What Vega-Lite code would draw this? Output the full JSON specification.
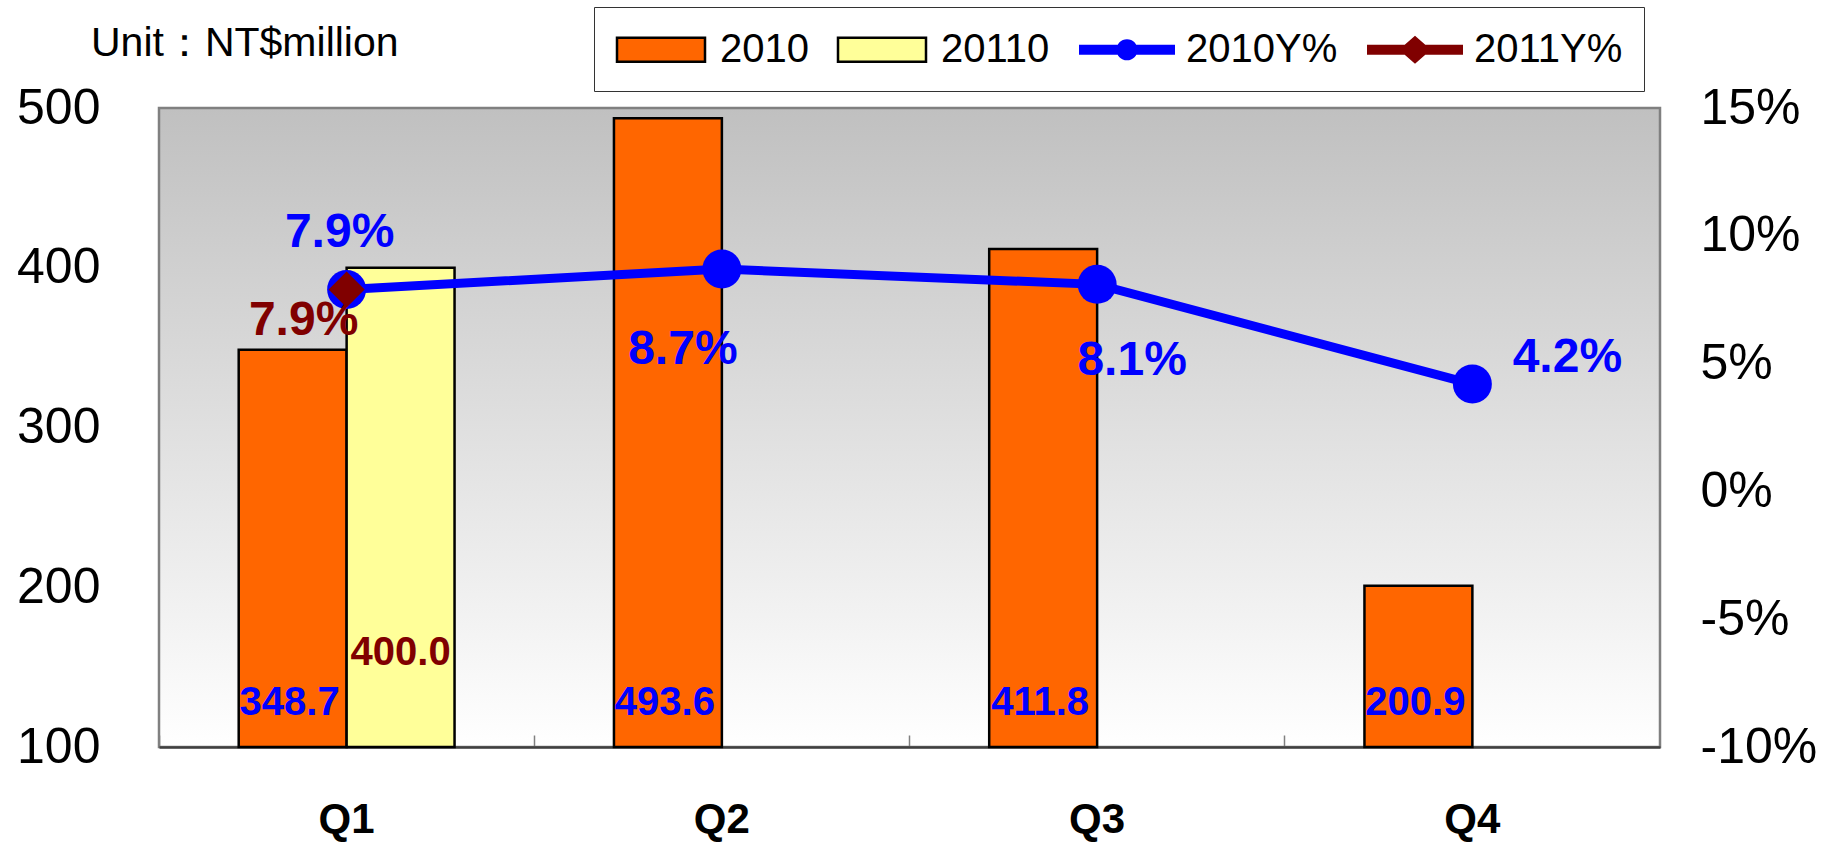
{
  "$schema": "https://vega.github.io/schema/vega-lite/v6.json",
  "width": 1501,
  "height": 639,
  "autosize": {"type": "none"},
  "padding": {"left": 159, "top": 108, "right": 176, "bottom": 100},
  "background": "white",
  "title": {
    "text": "Unit：NT$million",
    "anchor": "start",
    "frame": "group",
    "orient": "top",
    "fontSize": 41,
    "fontWeight": "normal",
    "font": "Liberation Sans",
    "color": "black",
    "baseline": "alphabetic",
    "dx": -68,
    "dy": 116,
    "offset": 26
  },
  "datasets": {
    "sales": [
      {"quarter": "Q1", "year": "2010", "sales": 348.7},
      {"quarter": "Q1", "year": "20110", "sales": 400.0},
      {"quarter": "Q2", "year": "2010", "sales": 493.6},
      {"quarter": "Q3", "year": "2010", "sales": 411.8},
      {"quarter": "Q4", "year": "2010", "sales": 200.9}
    ],
    "growth": [
      {"quarter": "Q1", "series": "2010Y%", "pct": 0.079},
      {"quarter": "Q2", "series": "2010Y%", "pct": 0.087},
      {"quarter": "Q3", "series": "2010Y%", "pct": 0.081},
      {"quarter": "Q4", "series": "2010Y%", "pct": 0.042},
      {"quarter": "Q1", "series": "2011Y%", "pct": 0.079}
    ]
  },
  "config": {
    "font": "Liberation Sans",
    "view": {
      "stroke": "#808080",
      "strokeWidth": 2.5,
      "fill": {
        "gradient": "linear",
        "x1": 0, "y1": 0, "x2": 0, "y2": 1,
        "stops": [
          {"offset": 0, "color": "#c0c0c0"},
          {"offset": 1, "color": "#ffffff"}
        ]
      }
    }
  },
  "layer": [
    {
      "data": {"name": "sales"},
      "encoding": {
        "x": {
          "field": "quarter",
          "type": "nominal",
          "scale": {"domain": ["Q1", "Q2", "Q3", "Q4"], "paddingInner": 0, "paddingOuter": 0},
          "title": null,
          "axis": {
            "orient": "bottom",
            "labelFontSize": 42,
            "labelFontWeight": "bold",
            "labelColor": "black",
            "labelAngle": 0,
            "labelPadding": 64,
            "domainColor": "#404040",
            "domainWidth": 2.5,
            "ticks": true,
            "tickSize": -12,
            "tickColor": "#808080",
            "tickWidth": 1.5,
            "bandPosition": 0,
            "grid": false
          }
        },
        "xOffset": {
          "field": "year",
          "type": "nominal",
          "scale": {"domain": ["2010", "20110"], "paddingInner": 0, "paddingOuter": 0.7385}
        }
      },
      "layer": [
        {
          "mark": {"type": "bar", "stroke": "black", "strokeWidth": 2.5},
          "encoding": {
            "y": {
              "field": "sales",
              "type": "quantitative",
              "scale": {"domain": [100, 500], "zero": false},
              "title": null,
              "axis": {
                "orient": "left",
                "values": [100, 200, 300, 400, 500],
                "labelFontSize": 50,
                "labelColor": "black",
                "labelPadding": 59,
                "ticks": false,
                "domain": false,
                "grid": false
              }
            },
            "y2": {"datum": 100},
            "color": {
              "field": "year",
              "type": "nominal",
              "scale": {
                "domain": ["2010", "20110", "2010Y%", "2011Y%"],
                "range": ["#FF6600", "#FFFF99", "#0000FF", "#800000"]
              },
              "legend": {
                "title": null,
                "orient": "none",
                "legendX": 435,
                "legendY": -101,
                "direction": "horizontal",
                "columns": 4,
                "symbolSize": 1600,
                "symbolStrokeWidth": 2.5,
                "symbolOffset": 24.5,
                "labelOffset": 37.5,
                "labelFontSize": 40,
                "labelColor": "black",
                "labelFont": "Liberation Sans",
                "labelLimit": 400,
                "columnPadding": 24,
                "padding": 21,
                "strokeColor": "#333333",
                "fillColor": "white",
                "encoding": {
                  "symbols": {
                    "shape": {"value": {"expr": "(datum.value === '2010' || datum.value === '20110') ? 'M-2.2,-0.6H2.2V0.6H-2.2Z' : (datum.value === '2010Y%' ? 'M-2.4,-0.25H2.4V0.25H-2.4Z M0.53,0A0.53,0.53,0,1,1,-0.53,0A0.53,0.53,0,1,1,0.53,0Z' : 'M-2.4,-0.25H2.4V0.25H-2.4Z M0,-0.7L0.8,0L0,0.7L-0.8,0Z')"}},
                    "stroke": {"value": {"expr": "(datum.value === '2010' || datum.value === '20110') ? 'black' : 'transparent'"}}
                  }
                }
              }
            }
          }
        },
        {
          "transform": [{"filter": "datum.year === '2010'"}],
          "mark": {"type": "text", "fontSize": 40, "fontWeight": "bold", "color": "#0000FF", "dy": -44, "dx": -3, "baseline": "middle"},
          "encoding": {
            "y": {"datum": 100, "type": "quantitative", "title": null},
            "text": {"field": "sales", "type": "quantitative", "format": ".1f"}
          }
        },
        {
          "transform": [{"filter": "datum.year === '20110'"}],
          "mark": {"type": "text", "fontSize": 40, "fontWeight": "bold", "color": "#800000", "dy": -94, "baseline": "middle"},
          "encoding": {
            "y": {"datum": 100, "type": "quantitative", "title": null},
            "text": {"field": "sales", "type": "quantitative", "format": ".1f"}
          }
        }
      ]
    },
    {
      "data": {"name": "growth"},
      "encoding": {
        "x": {
          "field": "quarter",
          "type": "nominal",
          "scale": {"domain": ["Q1", "Q2", "Q3", "Q4"], "paddingInner": 0, "paddingOuter": 0},
          "title": null
        },
        "y": {
          "field": "pct",
          "type": "quantitative",
          "scale": {"domain": [-0.1, 0.15], "zero": false},
          "title": null,
          "axis": {
            "orient": "right",
            "values": [-0.1, -0.05, 0, 0.05, 0.1, 0.15],
            "labelExpr": "round(datum.value * 100) + '%'",
            "labelFontSize": 50,
            "labelColor": "black",
            "labelPadding": 40,
            "ticks": false,
            "domain": false,
            "grid": false
          }
        }
      },
      "layer": [
        {
          "transform": [{"filter": "datum.series === '2010Y%'"}],
          "mark": {"type": "line", "color": "#0000FF", "strokeWidth": 9},
          "encoding": {}
        },
        {
          "transform": [{"filter": "datum.series === '2010Y%'"}],
          "mark": {"type": "point", "filled": true, "shape": "circle", "size": 1520, "color": "#0000FF", "opacity": 1},
          "encoding": {}
        },
        {
          "transform": [{"filter": "datum.series === '2011Y%'"}],
          "mark": {"type": "point", "filled": true, "shape": "diamond", "size": 1296, "color": "#800000", "opacity": 1},
          "encoding": {}
        },
        {
          "transform": [{"filter": "datum.series === '2010Y%' && datum.quarter === 'Q1'"}],
          "mark": {"type": "text", "fontSize": 48, "fontWeight": "bold", "color": "#0000FF", "dx": -7, "dy": -56, "baseline": "middle"},
          "encoding": {"text": {"field": "pct", "type": "quantitative", "format": ".1%"}}
        },
        {
          "transform": [{"filter": "datum.series === '2011Y%' && datum.quarter === 'Q1'"}],
          "mark": {"type": "text", "fontSize": 48, "fontWeight": "bold", "color": "#800000", "dx": -43, "dy": 32, "baseline": "middle"},
          "encoding": {"text": {"field": "pct", "type": "quantitative", "format": ".1%"}}
        },
        {
          "transform": [{"filter": "datum.series === '2010Y%' && datum.quarter === 'Q2'"}],
          "mark": {"type": "text", "fontSize": 48, "fontWeight": "bold", "color": "#0000FF", "dx": -39, "dy": 81, "baseline": "middle"},
          "encoding": {"text": {"field": "pct", "type": "quantitative", "format": ".1%"}}
        },
        {
          "transform": [{"filter": "datum.series === '2010Y%' && datum.quarter === 'Q3'"}],
          "mark": {"type": "text", "fontSize": 48, "fontWeight": "bold", "color": "#0000FF", "dx": 35, "dy": 77, "baseline": "middle"},
          "encoding": {"text": {"field": "pct", "type": "quantitative", "format": ".1%"}}
        },
        {
          "transform": [{"filter": "datum.series === '2010Y%' && datum.quarter === 'Q4'"}],
          "mark": {"type": "text", "fontSize": 48, "fontWeight": "bold", "color": "#0000FF", "dx": 95, "dy": -26, "baseline": "middle"},
          "encoding": {"text": {"field": "pct", "type": "quantitative", "format": ".1%"}}
        }
      ]
    }
  ],
  "resolve": {"scale": {"y": "independent"}}
}
